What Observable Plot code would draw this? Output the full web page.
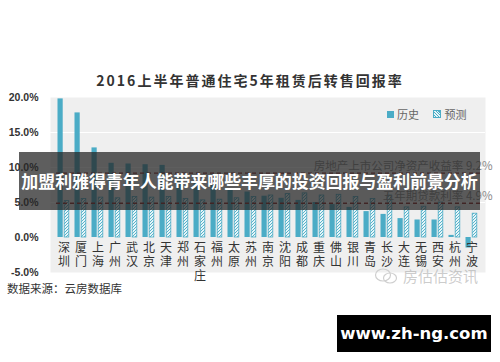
<!DOCTYPE html>
<html>
<head>
<meta charset="utf-8">
<script src="https://cdn.jsdelivr.net/npm/d3@7"></script>
<script src="https://cdn.jsdelivr.net/npm/@observablehq/plot@0.6"></script>
<style>
  html, body { margin: 0; padding: 0; background: #fff; }
  #wrap { position: relative; width: 500px; height: 362px; overflow: hidden; font-family: "Noto Sans CJK SC", "Noto Sans", sans-serif; }
  #wrap svg.plot { position: absolute; left: 0; top: 0; }
  .abs { position: absolute; white-space: nowrap; }
</style>
</head>
<body>
<div id="wrap"></div>
<script>
// ---- data ----
const chartTitle = "2016上半年普通住宅5年租赁后转售回报率";
const cities = ["深圳","厦门","上海","广州","武汉","北京","天津","郑州","石家庄","福州","太原","苏州","南京","沈阳","成都","重庆","佛山","银川","青岛","长沙","大连","无锡","西安","杭州","宁波"];
const historyValues = [19.8,17.8,12.8,10.6,10.5,10.4,10.3,8.6,8.0,7.5,7.0,6.5,5.9,5.6,5.3,5.0,4.7,4.3,3.7,3.3,2.7,2.5,2.5,0.3,-1.5];
const forecastValues = [5.2,5.5,5.7,5.6,5.8,5.7,5.8,5.5,5.3,5.4,5.6,5.8,6.0,6.2,6.3,6.0,6.1,5.8,5.5,6.0,4.3,4.4,5.0,4.3,3.4];
const seriesNames = ["历史","预测"];
const yTicks = [-5,0,5,10,15,20];
const refLines = [
  {value: 9.2, label: "房地产上市公司净资产收益率 9.2%"},
  {value: 4.9, label: "五年期贷款利率 4.9%"}
];
const sourceText = "数据来源：云房数据库";
const overlayTitle = "加盟利雅得青年人能带来哪些丰厚的投资回报与盈利前景分析";
const wechatText = "房估估资讯";
const siteText = "www.zh-ng.com";

const histRows = cities.map((c, i) => ({city: c, value: historyValues[i]}));
const foreRows = cities.map((c, i) => ({city: c, value: forecastValues[i]}));

const teal = "#4bacc6";

const plot = Plot.plot({
  width: 500,
  height: 362,
  marginTop: 97,
  marginBottom: 90,
  marginLeft: 50,
  marginRight: 15,
  style: {background: "transparent", fontFamily: "'Noto Sans CJK SC', sans-serif"},
  x: {domain: cities, padding: 0, axis: null},
  y: {domain: [-5, 20], axis: null},
  marks: [
    Plot.frame({fill: "#efefef", stroke: "none"}),
    Plot.ruleY([5, 10, 15], {stroke: "#ffffff", strokeWidth: 1}),
    Plot.axisY({ticks: yTicks, tickFormat: d => d.toFixed(1) + "%", label: null, tickSize: 0, tickPadding: 12, fontSize: 10.5, fontWeight: "bold", fill: "#333", fontFamily: "'Liberation Sans', sans-serif"}),
    Plot.barY(histRows, {x: "city", y: "value", fill: teal, insetLeft: 2.5, insetRight: 9.3}),
    Plot.barY(foreRows, {x: "city", y: "value", fill: "url(#hatch)", stroke: teal, strokeWidth: 0.8, insetLeft: 9.2, insetRight: 3.2}),
    Plot.ruleY(refLines, {y: "value", stroke: "#8b2323", strokeWidth: 1.4, strokeDasharray: "4,3", insetLeft: 6, insetRight: 4}),
    Plot.text(refLines, {y: "value", text: "label", frameAnchor: "right", textAnchor: "end", dx: 7, dy: -7, fontSize: 11.5, fill: "#8a8a8a"}),
    Plot.text(cities, {x: d => d, y: () => 0, text: d => d.split("").join("\n"), lineAnchor: "top", dy: 5, lineHeight: 1.15, fontSize: 12, fill: "#333"})
  ]
});

// hatch pattern for forecast bars
const ns = "http://www.w3.org/2000/svg";
const defs = document.createElementNS(ns, "defs");
defs.innerHTML = `<pattern id="hatch" patternUnits="userSpaceOnUse" width="3" height="3">
  <rect width="3" height="3" fill="#e6f5f8"/>
  <path d="M0,3 L3,0 M-1,1 L1,-1 M2,4 L4,2" stroke="${teal}" stroke-width="0.9"/>
</pattern>`;
plot.insertBefore(defs, plot.firstChild);

const wrap = document.getElementById("wrap");
wrap.appendChild(plot);

function addDiv(html, css) {
  const d = document.createElement("div");
  d.className = "abs";
  d.innerHTML = html;
  Object.assign(d.style, css);
  wrap.appendChild(d);
  return d;
}

// chart title
addDiv(chartTitle, {left: "0px", width: "500px", textAlign: "center", top: "72px", fontSize: "14px", fontWeight: "bold", letterSpacing: "2px", color: "#333", lineHeight: "16px"});

// legend
addDiv(`<span style="display:inline-block;width:7px;height:7px;background:${teal};margin-right:3px;vertical-align:middle"></span><span style="vertical-align:middle">${seriesNames[0]}</span>
<span style="display:inline-block;width:6px;height:6px;border:1px solid ${teal};background:repeating-linear-gradient(45deg,#e6f5f8 0 1px,${teal} 1px 2px);margin-left:12px;margin-right:3px;vertical-align:middle"></span><span style="vertical-align:middle">${seriesNames[1]}</span>`,
  {left: "387px", top: "104px", fontSize: "11px", color: "#666", lineHeight: "16px"});

// source
addDiv(sourceText, {left: "7px", top: "281px", fontSize: "11.5px", color: "#333", lineHeight: "14px"});

// wechat watermark (semi-transparent, sits over the lower labels as in the reference)
addDiv(`<svg width="24" height="18" style="vertical-align:middle;margin-right:5px"><ellipse cx="9" cy="8" rx="7.5" ry="6" fill="none" stroke="#cfcfcf" stroke-width="1.2"/><ellipse cx="16" cy="11" rx="6.5" ry="5" fill="none" stroke="#cfcfcf" stroke-width="1.2"/></svg><span style="vertical-align:middle">${wechatText}</span>`,
  {left: "374px", top: "264px", fontSize: "15px", color: "rgba(170,170,170,0.6)", lineHeight: "20px"});

// overlay band
addDiv(overlayTitle, {left: "19px", top: "152px", width: "461px", height: "58px", background: "rgba(38,38,38,0.74)", color: "#fff", fontSize: "17px", fontWeight: "bold", lineHeight: "58px", textAlign: "center", letterSpacing: "-0.1px"});

// site watermark
addDiv(siteText, {left: "337px", top: "315px", width: "154px", height: "37px", background: "#000", color: "#fff", fontSize: "16.5px", fontWeight: "bold", lineHeight: "37px", textAlign: "center", fontFamily: "'DejaVu Sans', sans-serif"});
</script>
</body>
</html>
